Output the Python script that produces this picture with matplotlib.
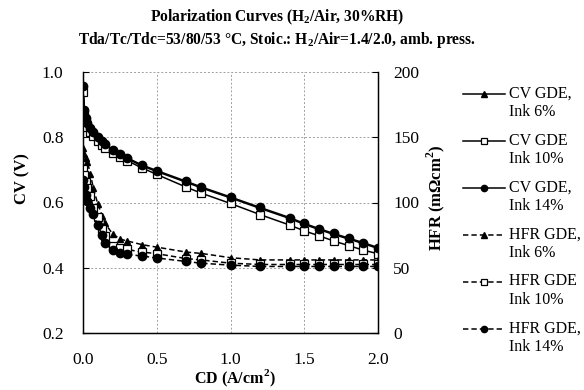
import matplotlib
matplotlib.use("Agg")
import matplotlib.pyplot as plt
from matplotlib.lines import Line2D
from matplotlib.legend_handler import HandlerLine2D

plt.rcParams['font.family'] = ['Liberation Serif', 'DejaVu Serif']
plt.rcParams['mathtext.fontset'] = 'custom'
plt.rcParams['mathtext.rm'] = 'Liberation Serif'
plt.rcParams['mathtext.bf'] = 'Liberation Serif:bold'

cd = [0, 0.01, 0.02, 0.03, 0.05, 0.07, 0.1, 0.13, 0.15, 0.2, 0.25, 0.3, 0.4, 0.5,
      0.7, 0.8, 1.0, 1.2, 1.4, 1.5, 1.6, 1.7, 1.8, 1.9, 2.0]

cv_ink6 = [0.953, 0.882, 0.857, 0.842, 0.825, 0.812, 0.797, 0.784, 0.775, 0.757, 0.745,
           0.734, 0.712, 0.695, 0.662, 0.645, 0.614, 0.582, 0.551, 0.533, 0.517, 0.502,
           0.488, 0.474, 0.459]
cv_ink10 = [0.940, 0.870, 0.845, 0.830, 0.815, 0.803, 0.790, 0.777, 0.768, 0.752, 0.740,
            0.728, 0.706, 0.686, 0.647, 0.629, 0.597, 0.563, 0.531, 0.513, 0.498, 0.482,
            0.468, 0.454, 0.443]
cv_ink14 = [0.956, 0.885, 0.860, 0.845, 0.828, 0.815, 0.800, 0.787, 0.778, 0.760, 0.748,
            0.737, 0.715, 0.698, 0.665, 0.648, 0.617, 0.585, 0.554, 0.536, 0.520, 0.505,
            0.491, 0.477, 0.462]

hfr_ink6 = [142, 137, 134, 131, 122, 111, 99, 90, 84, 76, 72, 70.5, 67.7, 65.8,
            62, 61, 57.7, 56, 56, 56, 56, 56, 56, 56, 56]
hfr_ink10 = [126, 121, 116, 111, 105, 96, 89, 80, 74, 67, 65, 64, 62, 60.8,
             57, 56, 53.5, 52.5, 52.5, 52.5, 52.5, 52.5, 52.5, 52.5, 52.5]
hfr_ink14 = [117, 112, 106, 101, 96, 91, 82.5, 75, 69, 63.3, 61.2, 60.2, 59, 57.5,
             54.8, 53.5, 52, 51, 51, 51, 51, 51, 51, 51, 51]

labels = ["CV GDE,\nInk 6%", "CV GDE\nInk 10%", "CV GDE,\nInk 14%",
          "HFR GDE,\nInk 6%", "HFR GDE\nInk 10%", "HFR GDE,\nInk 14%"]


class UpHandler(HandlerLine2D):
    def __init__(self, shift, **kw):
        super().__init__(**kw)
        self.shift = shift

    def create_artists(self, legend, orig_handle, xdescent, ydescent, width, height,
                       fontsize, trans):
        return super().create_artists(legend, orig_handle, xdescent, ydescent - self.shift,
                                      width, height, fontsize, trans)


fig = plt.figure(figsize=(5.84, 3.90), dpi=100)
ax = fig.add_axes([83/584, 1-333/390, (378-83)/584, (333-72)/390])
ax2 = ax.twinx()

lw = 1.1
dash = (0, (3.5, 2))
h1, = ax.plot(cd, cv_ink6, '-', color='black', lw=lw, marker='^', ms=5, label=labels[0], zorder=3)
h2, = ax.plot(cd, cv_ink10, '-', color='black', lw=lw, marker='s', ms=5.5, mfc='white', mew=0.9, label=labels[1], zorder=3)
h3, = ax.plot(cd, cv_ink14, '-', color='black', lw=lw, marker='o', ms=6, label=labels[2], zorder=4)
h4, = ax2.plot(cd, hfr_ink6, color='black', ls=dash, lw=lw, marker='^', ms=5, label=labels[3])
h5, = ax2.plot(cd, hfr_ink10, color='black', ls=dash, lw=lw, marker='s', ms=5.5, mfc='white', mew=0.9, label=labels[4])
h6, = ax2.plot(cd, hfr_ink14, color='black', ls=dash, lw=lw, marker='o', ms=6, label=labels[5])

ax.set_xlim(0, 2.0)
ax.set_ylim(0.2, 1.0)
ax2.set_ylim(0, 200)
ax.set_xticks([0, 0.5, 1.0, 1.5, 2.0])
ax.set_xticklabels(["0.0", "0.5", "1.0", "1.5", "2.0"])
ax.set_yticks([0.2, 0.4, 0.6, 0.8, 1.0])
ax.set_yticklabels(["0.2", "0.4", "0.6", "0.8", "1.0"])
ax2.set_yticks([0, 50, 100, 150, 200])

ax.grid(True, linestyle=(0, (2, 2)), color='#a0a0a0', lw=0.7)
ax.set_axisbelow(True)
ax.spines['top'].set_visible(False)
ax2.spines['top'].set_visible(False)
for sp in ['left', 'bottom']:
    ax.spines[sp].set_linewidth(1.0)
ax2.spines['right'].set_linewidth(1.0)

ax.tick_params(axis='x', direction='in', length=0, labelsize=12.5, pad=14)
ax.tick_params(axis='y', direction='in', length=4, labelsize=12.5, pad=14)
ax2.tick_params(axis='y', direction='in', length=4, labelsize=12.5, pad=11)

ax.set_xlabel("CD (A/cm$^\\mathbf{2}$)", fontsize=11.5, fontweight='bold')
ax.xaxis.set_label_coords(0.515, -0.132)
ax.set_ylabel("CV (V)", fontsize=12, fontweight='bold')
ax.yaxis.set_label_coords(-0.18, 0.59)
ax2.set_ylabel("HFR (m\u03a9cm$^\\mathbf{2}$)", fontsize=12, fontweight='bold')
ax2.yaxis.set_label_coords(1.158, 0.52)

fig.text(277/584, 1-17/390, "Polarization Curves (H$_\\mathbf{2}$/Air, 30%RH)",
         ha='center', va='center', fontsize=11.2, fontweight='bold')
fig.text(277/584, 1-40/390, "Tda/Tc/Tdc=53/80/53 \u00b0C, Stoic.: H$_\\mathbf{2}$/Air=1.4/2.0, amb. press.",
         ha='center', va='center', fontsize=11.2, fontweight='bold')

leg = fig.legend(handles=[h1, h2, h3, h4, h5, h6], loc='upper left',
                 bbox_to_anchor=(463/584, 1-86/390), frameon=False, fontsize=11.5,
                 handlelength=2.6, handletextpad=0.3, labelspacing=0.78, borderpad=0,
                 borderaxespad=0, markerscale=0.75,
                 handler_map={Line2D: UpHandler(13.5)})

fig.savefig("out.png", dpi=100)
